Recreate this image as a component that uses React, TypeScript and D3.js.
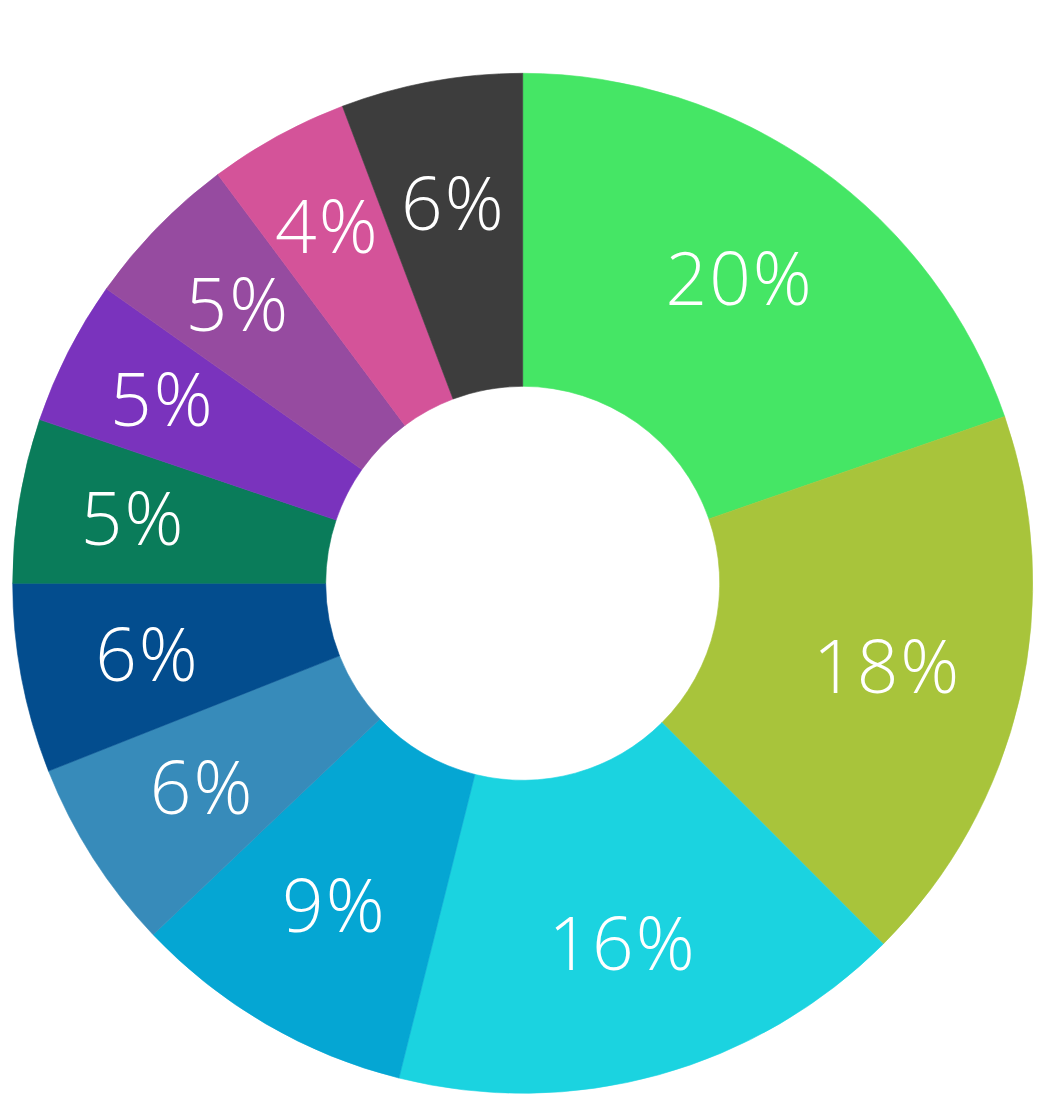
import React from "react";
import * as d3 from "d3";

// Share of each segment, clockwise from 12 o'clock
const segments = [
  "Segment A", "Segment B", "Segment C", "Segment D", "Segment E", "Segment F",
  "Segment G", "Segment H", "Segment I", "Segment J", "Segment K",
];
const shares = [19.7, 17.8, 16.4, 9.0, 6.1, 6.0, 5.2, 4.6, 5.0, 4.45, 5.75];
const colors = [
  "#45E665", "#A8C43B", "#1BD3E0", "#05A6D3", "#378BBA", "#034D8E",
  "#0A7C5A", "#7A33BD", "#964BA0", "#D45399", "#3D3D3D",
];

const WIDTH = 1040;
const HEIGHT = 1102;
const CX = 522.7;
const CY = 583.3;
const OUTER = 510;
const INNER = 197;

export default function App() {
  const rows = segments.map((name, i) => ({ name, value: shares[i], color: colors[i] }));
  const pie = d3.pie<any>().value((d) => d.value).sort(null);
  const arcs = pie(rows);
  const arc = d3.arc<any>().innerRadius(INNER).outerRadius(OUTER);

  // narrow slices push their label a little further out
  const labelRadius = (v: number) => 374 + Math.max(0, 6.5 - v) * 16;

  return (
    <svg
      width={WIDTH}
      height={HEIGHT}
      style={{ position: "absolute", left: 0, top: 0, background: "#fff" }}
    >
      <g transform={`translate(${CX},${CY})`}>
        {arcs.map((a, i) => (
          <path
            key={i}
            d={arc(a) || ""}
            fill={a.data.color}
            stroke={a.data.color}
            strokeWidth={0.6}
            strokeLinejoin="round"
          />
        ))}
        {arcs.map((a, i) => {
          const mid = (a.startAngle + a.endAngle) / 2;
          const r = labelRadius(a.data.value);
          const x = Math.sin(mid) * r;
          const y = -Math.cos(mid) * r;
          return (
            <text
              key={`t${i}`}
              x={x}
              y={y + 26}
              textAnchor="middle"
              fill="#fff"
              fontFamily="'Open Sans', 'Noto Sans', sans-serif"
              fontWeight={300}
              fontSize={73}
              letterSpacing={2}
            >
              {`${Math.round(a.data.value)}%`}
            </text>
          );
        })}
      </g>
    </svg>
  );
}
